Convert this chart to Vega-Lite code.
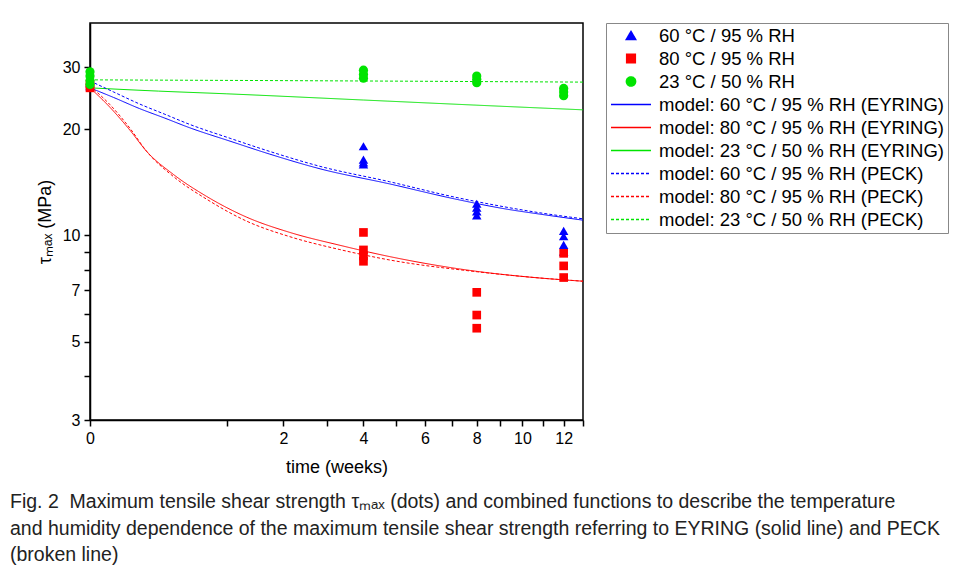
{
  "$schema": "https://vega.github.io/schema/vega-lite/v6.json",
  "width": 493,
  "height": 397,
  "autosize": {"type": "none"},
  "padding": {"left": 90, "top": 23, "right": 372, "bottom": 155},
  "background": "white",
  "config": {
    "font": "Liberation Sans",
    "view": {"stroke": "#000", "strokeWidth": 1.5},
    "axis": {
      "labelFont": "Liberation Sans", "labelFontSize": 16, "labelColor": "#000",
      "titleFont": "Liberation Sans", "titleFontSize": 18, "titleFontWeight": "normal", "titleColor": "#000",
      "domainColor": "#000", "domainWidth": 1.5, "tickColor": "#000", "tickWidth": 1.5, "grid": false,
      "labelFlush": false, "labelOverlap": false
    },
    "legend": {
      "labelFont": "Liberation Sans", "labelFontSize": 18.5, "labelColor": "#000", "labelLimit": 400,
      "strokeColor": "#888", "padding": 4, "clipHeight": 17, "rowPadding": 4, "labelOffset": 7
    }
  },
  "title": {
    "text": [
      "Fig. 2\u00a0 Maximum tensile shear strength τₘₐₓ (dots) and combined functions to describe the temperature",
      "and humidity dependence of the maximum tensile shear strength referring to EYRING (solid line) and PECK",
      "(broken line)"
    ],
    "orient": "bottom", "anchor": "start", "frame": "group", "dx": -80, "offset": 17,
    "font": "Liberation Sans", "fontSize": 19.5, "fontWeight": "normal", "lineHeight": 26.5, "color": "#222"
  },
  "datasets": {
    "points": [
      {"series": "60 °C / 95 % RH", "t": 0, "v": 27.0},
      {"series": "60 °C / 95 % RH", "t": 0, "v": 26.5},
      {"series": "60 °C / 95 % RH", "t": 4, "v": 17.9},
      {"series": "60 °C / 95 % RH", "t": 4, "v": 16.4},
      {"series": "60 °C / 95 % RH", "t": 4, "v": 16.1},
      {"series": "60 °C / 95 % RH", "t": 4, "v": 15.9},
      {"series": "60 °C / 95 % RH", "t": 8, "v": 12.3},
      {"series": "60 °C / 95 % RH", "t": 8, "v": 12.0},
      {"series": "60 °C / 95 % RH", "t": 8, "v": 11.7},
      {"series": "60 °C / 95 % RH", "t": 8, "v": 11.4},
      {"series": "60 °C / 95 % RH", "t": 12, "v": 10.3},
      {"series": "60 °C / 95 % RH", "t": 12, "v": 9.95},
      {"series": "60 °C / 95 % RH", "t": 12, "v": 9.4},
      {"series": "60 °C / 95 % RH", "t": 12, "v": 9.0},
      {"series": "80 °C / 95 % RH", "t": 0, "v": 26.8},
      {"series": "80 °C / 95 % RH", "t": 0, "v": 26.2},
      {"series": "80 °C / 95 % RH", "t": 4, "v": 10.2},
      {"series": "80 °C / 95 % RH", "t": 4, "v": 9.1},
      {"series": "80 °C / 95 % RH", "t": 4, "v": 8.75},
      {"series": "80 °C / 95 % RH", "t": 4, "v": 8.45},
      {"series": "80 °C / 95 % RH", "t": 8, "v": 6.9},
      {"series": "80 °C / 95 % RH", "t": 8, "v": 5.95},
      {"series": "80 °C / 95 % RH", "t": 8, "v": 5.46},
      {"series": "80 °C / 95 % RH", "t": 12, "v": 8.9},
      {"series": "80 °C / 95 % RH", "t": 12, "v": 8.2},
      {"series": "80 °C / 95 % RH", "t": 12, "v": 7.6},
      {"series": "23 °C / 50 % RH", "t": 0, "v": 29.1},
      {"series": "23 °C / 50 % RH", "t": 0, "v": 28.3},
      {"series": "23 °C / 50 % RH", "t": 0, "v": 27.5},
      {"series": "23 °C / 50 % RH", "t": 0, "v": 26.8},
      {"series": "23 °C / 50 % RH", "t": 4, "v": 29.4},
      {"series": "23 °C / 50 % RH", "t": 4, "v": 28.6},
      {"series": "23 °C / 50 % RH", "t": 4, "v": 27.9},
      {"series": "23 °C / 50 % RH", "t": 8, "v": 28.3},
      {"series": "23 °C / 50 % RH", "t": 8, "v": 27.7},
      {"series": "23 °C / 50 % RH", "t": 8, "v": 27.1},
      {"series": "23 °C / 50 % RH", "t": 12, "v": 26.1},
      {"series": "23 °C / 50 % RH", "t": 12, "v": 25.5},
      {"series": "23 °C / 50 % RH", "t": 12, "v": 24.9}
    ],
    "models": [
      {"series": "model: 60 °C / 95 % RH (EYRING)", "t": 0, "v": 26.2},
      {"series": "model: 60 °C / 95 % RH (EYRING)", "t": 0.03, "v": 24.6},
      {"series": "model: 60 °C / 95 % RH (EYRING)", "t": 0.13, "v": 22.9},
      {"series": "model: 60 °C / 95 % RH (EYRING)", "t": 0.3, "v": 21.5},
      {"series": "model: 60 °C / 95 % RH (EYRING)", "t": 0.53, "v": 20.2},
      {"series": "model: 60 °C / 95 % RH (EYRING)", "t": 1.05, "v": 18.5},
      {"series": "model: 60 °C / 95 % RH (EYRING)", "t": 1.73, "v": 17.0},
      {"series": "model: 60 °C / 95 % RH (EYRING)", "t": 2.83, "v": 15.45},
      {"series": "model: 60 °C / 95 % RH (EYRING)", "t": 4.8, "v": 14.0},
      {"series": "model: 60 °C / 95 % RH (EYRING)", "t": 7.1, "v": 12.7},
      {"series": "model: 60 °C / 95 % RH (EYRING)", "t": 9.2, "v": 11.9},
      {"series": "model: 60 °C / 95 % RH (EYRING)", "t": 10.8, "v": 11.5},
      {"series": "model: 60 °C / 95 % RH (EYRING)", "t": 13, "v": 11.05},
      {"series": "model: 80 °C / 95 % RH (EYRING)", "t": 0, "v": 26.2},
      {"series": "model: 80 °C / 95 % RH (EYRING)", "t": 0.021, "v": 23.1},
      {"series": "model: 80 °C / 95 % RH (EYRING)", "t": 0.086, "v": 19.85},
      {"series": "model: 80 °C / 95 % RH (EYRING)", "t": 0.172, "v": 17.3},
      {"series": "model: 80 °C / 95 % RH (EYRING)", "t": 0.371, "v": 14.9},
      {"series": "model: 80 °C / 95 % RH (EYRING)", "t": 0.728, "v": 12.9},
      {"series": "model: 80 °C / 95 % RH (EYRING)", "t": 1.312, "v": 11.27},
      {"series": "model: 80 °C / 95 % RH (EYRING)", "t": 2.137, "v": 10.2},
      {"series": "model: 80 °C / 95 % RH (EYRING)", "t": 3.34, "v": 9.38},
      {"series": "model: 80 °C / 95 % RH (EYRING)", "t": 4.81, "v": 8.71},
      {"series": "model: 80 °C / 95 % RH (EYRING)", "t": 7.96, "v": 7.92},
      {"series": "model: 80 °C / 95 % RH (EYRING)", "t": 10.35, "v": 7.62},
      {"series": "model: 80 °C / 95 % RH (EYRING)", "t": 13, "v": 7.42},
      {"series": "model: 23 °C / 50 % RH (EYRING)", "t": 0, "v": 26.2},
      {"series": "model: 23 °C / 50 % RH (EYRING)", "t": 0.25, "v": 25.65},
      {"series": "model: 23 °C / 50 % RH (EYRING)", "t": 1, "v": 25.2},
      {"series": "model: 23 °C / 50 % RH (EYRING)", "t": 4, "v": 24.2},
      {"series": "model: 23 °C / 50 % RH (EYRING)", "t": 8, "v": 23.4},
      {"series": "model: 23 °C / 50 % RH (EYRING)", "t": 13, "v": 22.7},
      {"series": "model: 60 °C / 95 % RH (PECK)", "t": 0, "v": 27.4},
      {"series": "model: 60 °C / 95 % RH (PECK)", "t": 0.03, "v": 25.5},
      {"series": "model: 60 °C / 95 % RH (PECK)", "t": 0.13, "v": 23.6},
      {"series": "model: 60 °C / 95 % RH (PECK)", "t": 0.3, "v": 22.05},
      {"series": "model: 60 °C / 95 % RH (PECK)", "t": 0.53, "v": 20.65},
      {"series": "model: 60 °C / 95 % RH (PECK)", "t": 1.05, "v": 18.85},
      {"series": "model: 60 °C / 95 % RH (PECK)", "t": 1.73, "v": 17.3},
      {"series": "model: 60 °C / 95 % RH (PECK)", "t": 2.83, "v": 15.7},
      {"series": "model: 60 °C / 95 % RH (PECK)", "t": 4.8, "v": 14.2},
      {"series": "model: 60 °C / 95 % RH (PECK)", "t": 7.1, "v": 12.85},
      {"series": "model: 60 °C / 95 % RH (PECK)", "t": 9.2, "v": 12.05},
      {"series": "model: 60 °C / 95 % RH (PECK)", "t": 10.8, "v": 11.6},
      {"series": "model: 60 °C / 95 % RH (PECK)", "t": 13, "v": 11.15},
      {"series": "model: 80 °C / 95 % RH (PECK)", "t": 0, "v": 26.5},
      {"series": "model: 80 °C / 95 % RH (PECK)", "t": 0.021, "v": 23.5},
      {"series": "model: 80 °C / 95 % RH (PECK)", "t": 0.086, "v": 20.1},
      {"series": "model: 80 °C / 95 % RH (PECK)", "t": 0.172, "v": 17.3},
      {"series": "model: 80 °C / 95 % RH (PECK)", "t": 0.371, "v": 14.7},
      {"series": "model: 80 °C / 95 % RH (PECK)", "t": 0.728, "v": 12.67},
      {"series": "model: 80 °C / 95 % RH (PECK)", "t": 1.312, "v": 10.98},
      {"series": "model: 80 °C / 95 % RH (PECK)", "t": 2.137, "v": 9.92},
      {"series": "model: 80 °C / 95 % RH (PECK)", "t": 3.34, "v": 9.12},
      {"series": "model: 80 °C / 95 % RH (PECK)", "t": 4.81, "v": 8.52},
      {"series": "model: 80 °C / 95 % RH (PECK)", "t": 7.96, "v": 7.9},
      {"series": "model: 80 °C / 95 % RH (PECK)", "t": 10.35, "v": 7.62},
      {"series": "model: 80 °C / 95 % RH (PECK)", "t": 13, "v": 7.42},
      {"series": "model: 23 °C / 50 % RH (PECK)", "t": 0, "v": 27.6},
      {"series": "model: 23 °C / 50 % RH (PECK)", "t": 4, "v": 27.4},
      {"series": "model: 23 °C / 50 % RH (PECK)", "t": 13, "v": 27.2}
    ]
  },
  "encoding": {
    "x": {
      "field": "t", "type": "quantitative",
      "scale": {"type": "sqrt", "domain": [0, 13], "nice": false, "zero": true},
      "axis": {
        "orient": "bottom", "values": [0, 1, 2, 3, 4, 5, 6, 7, 8, 9, 10, 11, 12, 13],
        "labelExpr": "datum.value % 2 === 1 ? '' : datum.label",
        "format": "d", "tickSize": 6, "labelPadding": 4, "title": "time (weeks)", "titlePadding": 12,
        "encode": {"ticks": {"update": {"y2": {"signal": "datum.value % 2 === 1 ? 3 : 6"}}}}
      }
    },
    "y": {
      "field": "v", "type": "quantitative",
      "scale": {"type": "log", "domain": [3, 40], "nice": false},
      "axis": {
        "orient": "left", "values": [3, 4, 5, 6, 7, 8, 9, 10, 20, 30],
        "labelExpr": "indexof([4, 6, 8, 9], datum.value) >= 0 ? '' : datum.label",
        "format": "d", "tickSize": 6, "labelPadding": 4, "title": "τₘₐₓ (MPa)", "titlePadding": 8,
        "encode": {"ticks": {"update": {"x2": {"signal": "indexof([4, 6, 8, 9], datum.value) >= 0 ? -3 : -6"}}}}
      }
    },
    "color": {
      "field": "series", "type": "nominal",
      "scale": {
        "domain": ["60 °C / 95 % RH", "80 °C / 95 % RH", "23 °C / 50 % RH", "model: 60 °C / 95 % RH (EYRING)", "model: 80 °C / 95 % RH (EYRING)", "model: 23 °C / 50 % RH (EYRING)", "model: 60 °C / 95 % RH (PECK)", "model: 80 °C / 95 % RH (PECK)", "model: 23 °C / 50 % RH (PECK)"],
        "range": ["#0000ff", "#ff0000", "#00e400", "#0000ff", "#ff0000", "#00e400", "#0000ff", "#ff0000", "#00e400"]
      },
      "legend": {"orient": "none", "legendX": 516, "legendY": 0, "title": null}
    }
  },
  "layer": [
    {
      "data": {"name": "models"},
      "mark": {"type": "line", "strokeWidth": 1, "interpolate": "monotone"},
      "encoding": {
        "strokeDash": {
          "field": "series", "type": "nominal",
          "scale": {
            "domain": ["60 °C / 95 % RH", "80 °C / 95 % RH", "23 °C / 50 % RH", "model: 60 °C / 95 % RH (EYRING)", "model: 80 °C / 95 % RH (EYRING)", "model: 23 °C / 50 % RH (EYRING)", "model: 60 °C / 95 % RH (PECK)", "model: 80 °C / 95 % RH (PECK)", "model: 23 °C / 50 % RH (PECK)"],
            "range": [[1, 0], [1, 0], [1, 0], [1, 0], [1, 0], [1, 0], [3, 2], [3, 2], [3, 2]]
          },
          "legend": {"orient": "none", "legendX": 516, "legendY": 0, "title": null}
        }
      }
    },
    {
      "data": {"name": "points"},
      "mark": {"type": "point", "filled": true, "opacity": 1},
      "encoding": {
        "shape": {
          "field": "series", "type": "nominal",
          "scale": {
            "domain": ["60 °C / 95 % RH", "80 °C / 95 % RH", "23 °C / 50 % RH", "model: 60 °C / 95 % RH (EYRING)", "model: 80 °C / 95 % RH (EYRING)", "model: 23 °C / 50 % RH (EYRING)", "model: 60 °C / 95 % RH (PECK)", "model: 80 °C / 95 % RH (PECK)", "model: 23 °C / 50 % RH (PECK)"],
            "range": ["triangle-up", "square", "circle", "stroke", "stroke", "stroke", "stroke", "stroke", "stroke"]
          },
          "legend": {"orient": "none", "legendX": 516, "legendY": 0, "title": null}
        },
        "size": {
          "field": "series", "type": "nominal",
          "scale": {
            "type": "ordinal",
            "domain": ["60 °C / 95 % RH", "80 °C / 95 % RH", "23 °C / 50 % RH", "model: 60 °C / 95 % RH (EYRING)", "model: 80 °C / 95 % RH (EYRING)", "model: 23 °C / 50 % RH (EYRING)", "model: 60 °C / 95 % RH (PECK)", "model: 80 °C / 95 % RH (PECK)", "model: 23 °C / 50 % RH (PECK)"],
            "range": [90, 75, 85, 1600, 1600, 1600, 1600, 1600, 1600]
          },
          "legend": {"orient": "none", "legendX": 516, "legendY": 0, "title": null}
        }
      }
    }
  ]
}
